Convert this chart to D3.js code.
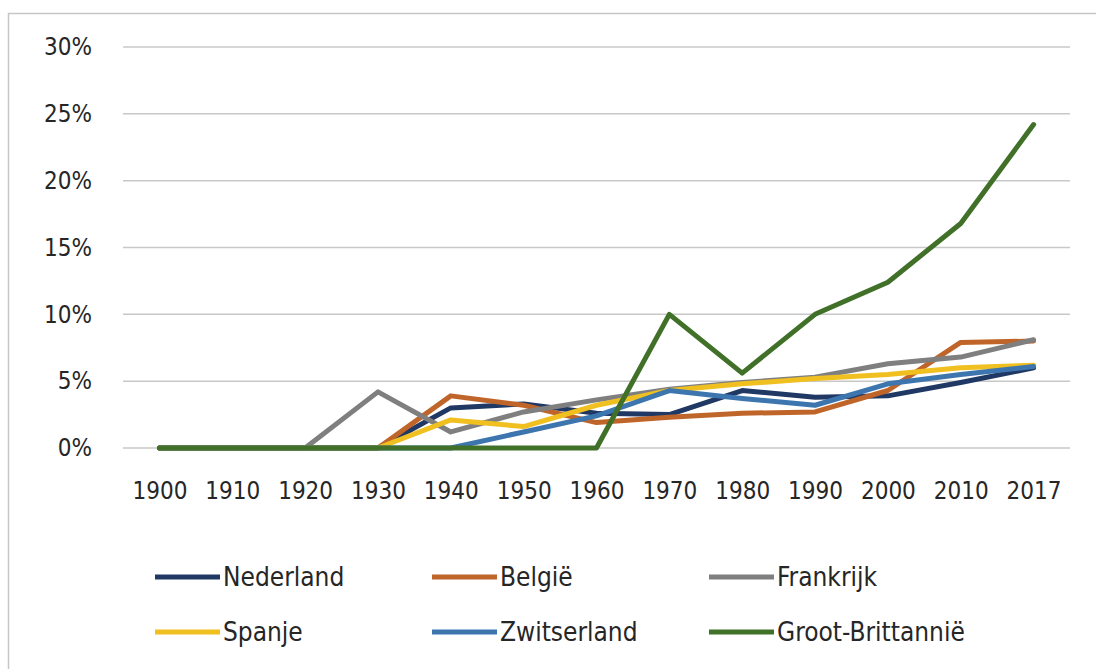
<!DOCTYPE html>
<html>
<head>
<meta charset="utf-8">
<script src="https://cdn.jsdelivr.net/npm/d3@7"></script>
<style>
  html, body { margin: 0; padding: 0; background: #fff; }
  text { font-family: "DejaVu Sans Condensed", "DejaVu Sans", sans-serif; fill: #262626; }
</style>
</head>
<body>
<svg id="chart" width="1096" height="669"></svg>
<script>
// Categories (years) and y ticks
const years = ["1900", "1910", "1920", "1930", "1940", "1950", "1960", "1970", "1980", "1990", "2000", "2010", "2017"];
const yTicks = [0, 0.05, 0.10, 0.15, 0.20, 0.25, 0.30];

// Series values (fractions)
const nederland   = [0, 0, 0, 0, 0.030, 0.033, 0.026, 0.025, 0.043, 0.038, 0.039, 0.049, 0.060];
const belgie      = [0, 0, 0, 0, 0.039, 0.032, 0.019, 0.023, 0.026, 0.027, 0.043, 0.079, 0.080];
const frankrijk   = [0, 0, 0, 0.042, 0.012, 0.027, 0.036, 0.044, 0.049, 0.053, 0.063, 0.068, 0.081];
const spanje      = [0, 0, 0, 0, 0.021, 0.016, 0.032, 0.043, 0.048, 0.052, 0.055, 0.060, 0.062];
const zwitserland = [0, 0, 0, 0, 0, 0.012, 0.024, 0.043, 0.037, 0.032, 0.048, 0.055, 0.061];
const grootBrit   = [0, 0, 0, 0, 0, 0, 0, 0.100, 0.056, 0.100, 0.124, 0.168, 0.242];

const seriesNames = ["Nederland", "België", "Frankrijk", "Spanje", "Zwitserland", "Groot-Brittannië"];
const seriesColors = ["#203864", "#c0652a", "#7f7f7f", "#f0c020", "#3d76ae", "#417029"];
const seriesValues = [nederland, belgie, frankrijk, spanje, zwitserland, grootBrit];

const svg = d3.select("#chart");

// Outer chart border (cropped on right and bottom)
svg.append("rect")
    .attr("x", 8.5).attr("y", 13.5)
    .attr("width", 1200).attr("height", 800)
    .attr("fill", "none")
    .attr("stroke", "#c6c6c6")
    .attr("stroke-width", 1.5);

const x = d3.scalePoint().domain(years).range([123, 1070]).padding(0.5);
const y = d3.scaleLinear().domain([0, 0.30]).range([448, 47]);

// Gridlines
svg.append("g")
    .selectAll("line")
    .data(yTicks)
    .join("line")
    .attr("x1", 123).attr("x2", 1070)
    .attr("y1", d => y(d)).attr("y2", d => y(d))
    .attr("stroke", "#c8c8c8")
    .attr("stroke-width", 1.5);

// Y axis labels
const yAxis = svg.append("g")
    .attr("transform", "translate(100,0)")
    .call(d3.axisLeft(y).tickValues(yTicks).tickFormat(d3.format(".0%")).tickSize(0).tickPadding(8));
yAxis.select(".domain").remove();
yAxis.selectAll("text").attr("font-size", 24).attr("font-family", null);

// X axis labels
const xAxis = svg.append("g")
    .attr("transform", "translate(0,482)")
    .call(d3.axisBottom(x).tickSize(0).tickPadding(0));
xAxis.select(".domain").remove();
xAxis.selectAll("text").attr("font-size", 24).attr("font-family", null).attr("dy", "0.71em");

// Lines
const line = d3.line()
    .x((d, i) => x(years[i]))
    .y(d => y(d));

svg.append("g")
    .selectAll("path")
    .data(seriesValues)
    .join("path")
    .attr("d", line)
    .attr("fill", "none")
    .attr("stroke", (d, i) => seriesColors[i])
    .attr("stroke-width", 5)
    .attr("stroke-linejoin", "round")
    .attr("stroke-linecap", "round");

// Legend (3 columns x 2 rows)
const legendCols = [155, 432, 709];
const legendRows = [577, 632];
const legend = svg.append("g")
    .selectAll("g")
    .data(seriesNames)
    .join("g")
    .attr("transform", (d, i) => `translate(${legendCols[i % 3]},${legendRows[Math.floor(i / 3)]})`);

legend.append("line")
    .attr("x1", 0).attr("x2", 65)
    .attr("stroke", (d, i) => seriesColors[i])
    .attr("stroke-width", 5);

legend.append("text")
    .attr("x", 68)
    .attr("dy", "0.35em")
    .attr("font-size", 26)
    .text(d => d);
</script>
</body>
</html>
